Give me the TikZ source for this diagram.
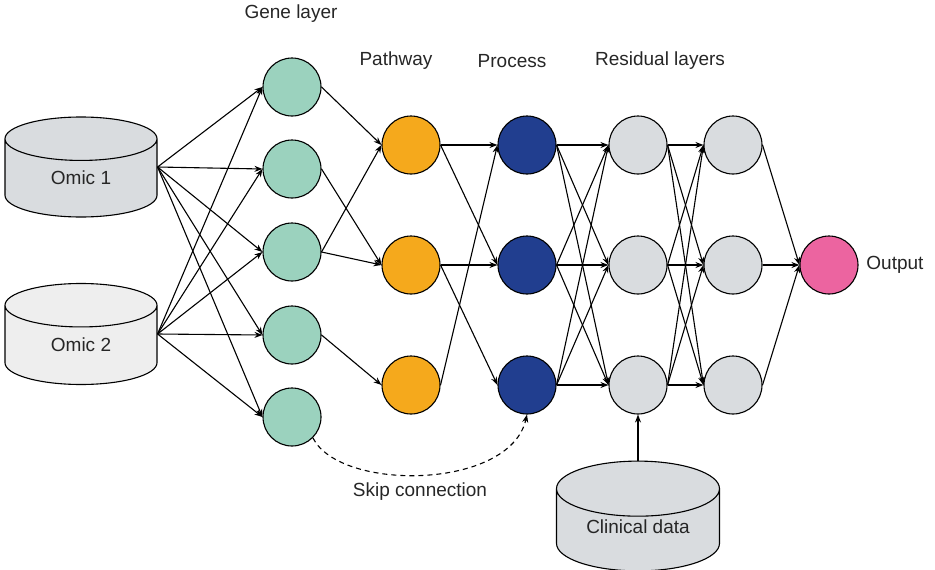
\documentclass[tikz,border=0pt]{standalone}
\usepackage{fontspec}
\setmainfont{Liberation Sans}
\usetikzlibrary{arrows.meta,shapes.geometric,positioning}
\definecolor{genecol}{HTML}{9BD2BE}
\definecolor{pathcol}{HTML}{F5A91C}
\definecolor{proccol}{HTML}{213E8F}
\definecolor{rescol}{HTML}{D9DCDF}
\definecolor{outcol}{HTML}{EC64A0}
\definecolor{omicA}{HTML}{D9DCDF}
\definecolor{omicB}{HTML}{EEEEEE}

\begin{document}
\begin{tikzpicture}[x=1pt,y=-1pt,line width=1.1pt,>={Stealth[length=8pt,width=6pt]}]
    \tikzstyle{every node}=[font=\fontsize{19}{22}\selectfont, text=black!85]
    \tikzstyle{neuron}=[circle, draw, minimum size=58pt, inner sep=0pt]
    \tikzstyle{db}=[cylinder, shape border rotate=90, draw, aspect=0.65, anchor=shape center, cylinder uses custom fill]
    \useasboundingbox (0,0) rectangle (935,570);
    % draw the data sources
    \node[db, cylinder body fill=omicA, cylinder end fill=omicA, minimum width=152pt, minimum height=100pt] (o1) at (81,167) {\raisebox{8pt}{Omic 1}};
    \node[db, cylinder body fill=omicB, cylinder end fill=omicB, minimum width=152pt, minimum height=101pt] (o2) at (81,334) {\raisebox{8pt}{Omic 2}};
    \node[db, cylinder body fill=omicA, cylinder end fill=omicA, aspect=0.5, minimum width=163pt, minimum height=106pt] (cd) at (638,516) {\raisebox{14pt}{Clinical data}};
    % draw the neurons
    \node[neuron, fill=genecol] (g1) at (292,87) {};
    \node[neuron, fill=genecol] (g2) at (292,169) {};
    \node[neuron, fill=genecol] (g3) at (292,252) {};
    \node[neuron, fill=genecol] (g4) at (292,335) {};
    \node[neuron, fill=genecol] (g5) at (292,417) {};
    \node[neuron, fill=pathcol] (p1) at (411,145) {};
    \node[neuron, fill=pathcol] (p2) at (411,265) {};
    \node[neuron, fill=pathcol] (p3) at (411,385) {};
    \node[neuron, fill=proccol] (q1) at (527,145) {};
    \node[neuron, fill=proccol] (q2) at (527,265) {};
    \node[neuron, fill=proccol] (q3) at (527,385) {};
    \node[neuron, fill=rescol] (r1) at (638,145) {};
    \node[neuron, fill=rescol] (r2) at (638,265) {};
    \node[neuron, fill=rescol] (r3) at (638,385) {};
    \node[neuron, fill=rescol] (s1) at (733,145) {};
    \node[neuron, fill=rescol] (s2) at (733,265) {};
    \node[neuron, fill=rescol] (s3) at (733,385) {};
    \node[neuron, fill=outcol] (out) at (829,265) {};
    % draw the connections
    \draw[->] (o1.east |- o1.shape center) -- (g1.west);
    \draw[->] (o1.east |- o1.shape center) -- (g2.west);
    \draw[->] (o1.east |- o1.shape center) -- (g3.west);
    \draw[->] (o1.east |- o1.shape center) -- (g4.west);
    \draw[->] (o1.east |- o1.shape center) -- (g5.west);
    \draw[->] (o2.east |- o2.shape center) -- (g1.west);
    \draw[->] (o2.east |- o2.shape center) -- (g2.west);
    \draw[->] (o2.east |- o2.shape center) -- (g3.west);
    \draw[->] (o2.east |- o2.shape center) -- (g4.west);
    \draw[->] (o2.east |- o2.shape center) -- (g5.west);
    \draw[->] (g1.east) -- (p1.west);
    \draw[->] (g2.east) -- (p2.west);
    \draw[->] (g3.east) -- (p1.west);
    \draw[->] (g3.east) -- (p2.west);
    \draw[->] (g4.east) -- (p3.west);
    \draw[->] (p1.east) -- (q1.west);
    \draw[->] (p1.east) -- (q2.west);
    \draw[->] (p2.east) -- (q2.west);
    \draw[->] (p2.east) -- (q3.west);
    \draw[->] (p3.east) -- (q1.west);
    \draw[->] (q1.east) -- (r1.west);
    \draw[->] (q1.east) -- (r2.west);
    \draw[->] (q1.east) -- (r3.west);
    \draw[->] (q2.east) -- (r1.west);
    \draw[->] (q2.east) -- (r2.west);
    \draw[->] (q2.east) -- (r3.west);
    \draw[->] (q3.east) -- (r1.west);
    \draw[->] (q3.east) -- (r2.west);
    \draw[->] (q3.east) -- (r3.west);
    \draw[->] (r1.east) -- (s1.west);
    \draw[->] (r1.east) -- (s2.west);
    \draw[->] (r1.east) -- (s3.west);
    \draw[->] (r2.east) -- (s1.west);
    \draw[->] (r2.east) -- (s2.west);
    \draw[->] (r2.east) -- (s3.west);
    \draw[->] (r3.east) -- (s1.west);
    \draw[->] (r3.east) -- (s2.west);
    \draw[->] (r3.east) -- (s3.west);
    \draw[->] (s1.east) -- (out.west);
    \draw[->] (s2.east) -- (out.west);
    \draw[->] (s3.east) -- (out.west);
    \draw[->] (cd.north) -- (r3.south);
    \draw[->, dash pattern=on 5pt off 4pt] (g5.south east) .. controls (340,492) and (510,490) .. (q3.south);
    % draw labels
    \node (lgene) at (291,14) {Gene layer};
    \node (lpath) at (396,61) {Pathway};
    \node (lproc) at (512,61) {Process};
    \node (lres) at (660,61) {Residual layers};
    \node (lskip) at (420,492) {Skip connection};
    \node[right=4pt of out] (lout) {Output};
\end{tikzpicture}
\end{document}
